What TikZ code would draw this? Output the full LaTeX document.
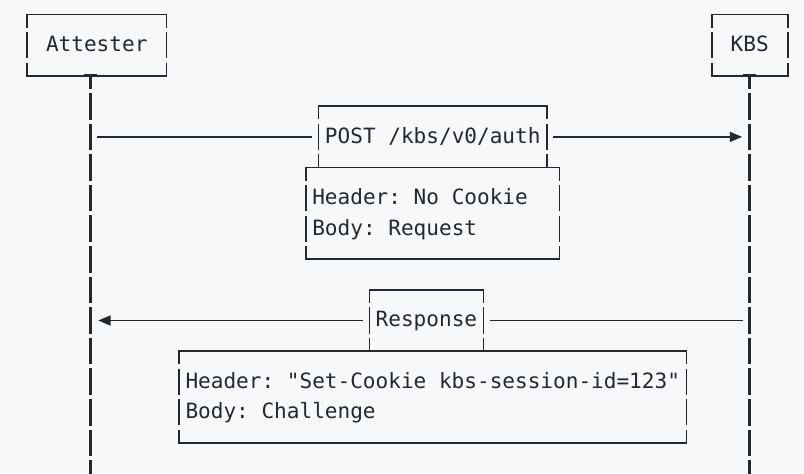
\documentclass[tikz,border=0pt]{standalone}
\usepackage{fontspec}
\newfontfamily\monofont{DejaVu Sans Mono}
\usetikzlibrary{arrows.meta}
\definecolor{bg}{HTML}{F6F8FA}
\definecolor{ink}{HTML}{24292F}
\frenchspacing

% half gap between stacked box-drawing cells (in rows)
\def\gp{0.07}
% baseline offset of text below a row's centre line (in rows)
\def\bl{0.212}

% vertical side of a box in column #1, from row #2 to row #3, broken at every row boundary
\newcommand\cellside[3]{%
  \draw[rule] (#1,#2) -- (#1,#2+0.5-\gp);
  \pgfmathtruncatemacro\rowa{#2+1}%
  \pgfmathtruncatemacro\rowb{#3-1}%
  \ifnum\rowa>\rowb\else
    \foreach \k in {\rowa,...,\rowb} {\draw[rule] (#1,\k-0.5+\gp) -- (#1,\k+0.5-\gp);}%
  \fi
  \draw[rule] (#1,#3-0.5+\gp) -- (#1,#3);}

% closed box with corners at columns #1/#3 and rows #2/#4
\newcommand\cellbox[4]{%
  \draw[rule] (#1,#2+0.5-\gp) -- (#1,#2) -- (#3,#2) -- (#3,#2+0.5-\gp);
  \draw[rule] (#1,#4-0.5+\gp) -- (#1,#4) -- (#3,#4) -- (#3,#4-0.5+\gp);
  \cellside{#1}{#2}{#4}\cellside{#3}{#2}{#4}}

% lifeline hanging from column #1, bold junction on row 2
\newcommand\lifeline[1]{%
  \fill[ink] (#1-0.5,2-0.057) rectangle (#1+0.5,2+0.057);
  \draw[life] (#1,2) -- (#1,2.5-0.065);
  \foreach \k in {3,...,14} {\draw[life] (#1,\k-0.5+0.065) -- (#1,\k+0.5-0.065);}
  \draw[life] (#1,14.5+0.065) -- (#1,15.2);}

\begin{document}
\begin{tikzpicture}[x=12.68pt, y=-30.6pt,
  lbl/.style={anchor=base west, inner sep=0pt, outer sep=0pt, text=ink,
              font=\monofont\fontsize{21.06}{25}\selectfont},
  rule/.style={draw=ink, line width=1.7pt},
  life/.style={draw=ink, line width=3.3pt},
  msg/.style={draw=ink, line width=1.7pt, -{Triangle[length=12.4pt,width=10pt]}},
]
\fill[bg] (-2.1293,-0.4739) rectangle (61.2776,14.9837);
\useasboundingbox (-2.1293,-0.4739) rectangle (61.2776,14.9837);

% participants
\cellbox{0}{0}{11}{2}
\node[lbl] (att) at (1.5,1+\bl) {Attester};
\cellbox{54}{0}{60}{2}
\node[lbl] (kbs) at (55.5,1+\bl) {KBS};

\lifeline{5}
\lifeline{57}

% request
\coordinate (attR4) at (5.5,4);
\coordinate (kbsL4) at (56.4,4);
\draw[rule] (23,3.5-\gp) -- (23,3) -- (41,3) -- (41,3.5-\gp);
\cellside{23}{3}{5}
\cellside{41}{3}{5}
\node[lbl] (post) at (23.5,4+\bl) {POST /kbs/v0/auth};
\draw[rule] (attR4) -- ([xshift=-12.68pt]post.west |- attR4);
\draw[msg] ([xshift=12.68pt]post.east |- kbsL4) -- (kbsL4);

\cellbox{22}{5}{42}{8}
\node[lbl] (reqhdr) at (22.5,6+\bl) {Header: No Cookie};
\node[lbl] (reqbody) at (22.5,7+\bl) {Body: Request};

% response
\coordinate (attR10) at (5.62,10);
\coordinate (kbsL10) at (56.5,10);
\draw[rule] (27,9.5-\gp) -- (27,9) -- (36,9) -- (36,9.5-\gp);
\cellside{27}{9}{11}
\cellside{36}{9}{11}
\node[lbl] (resp) at (27.5,10+\bl) {Response};
\draw[msg] ([xshift=-12.68pt]resp.west |- attR10) -- (attR10);
\draw[rule] ([xshift=12.68pt]resp.east |- kbsL10) -- (kbsL10);

\cellbox{12}{11}{52}{14}
\node[lbl] (resphdr) at (12.5,12+\bl) {Header: "Set-Cookie kbs-session-id=123"};
\node[lbl] (respbody) at (12.5,13+\bl) {Body: Challenge};
\end{tikzpicture}
\end{document}
